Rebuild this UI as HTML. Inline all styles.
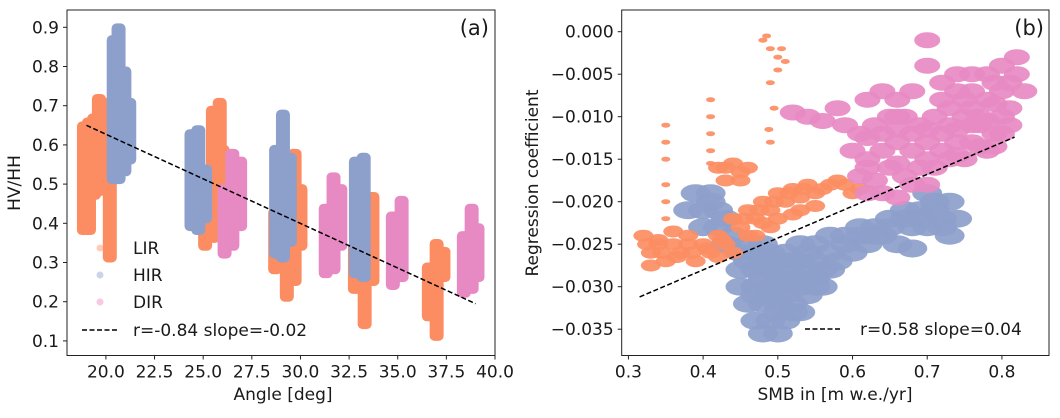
<!DOCTYPE html>
<html><head><meta charset="utf-8"><style>
body{margin:0;background:#fff;}
svg text{font-family:"DejaVu Sans","Liberation Sans",sans-serif;fill:#1a1a1a;}
</style></head><body>
<svg id="fig" width="1060" height="413" viewBox="0 0 1060 413" xmlns="http://www.w3.org/2000/svg">
<rect width="1060" height="413" fill="#fff"/>
<g id="pa"></g>
<g id="pb"></g>
</svg>
<script>
// ---- Panel (a) data: strips [angle, low, high]
const lirAngle=[18.87,19.13,19.39,19.64,19.9,20.2, 25.1,25.5,25.85,26.0, 28.7,29.3,29.7,30.0, 32.8,33.3,33.7, 36.6,37.0,37.35];
const lirLow  =[0.37,0.37,0.46,0.47,0.48,0.30, 0.33,0.35,0.40,0.45, 0.27,0.20,0.24,0.33, 0.22,0.13,0.24, 0.15,0.10,0.25];
const lirHigh =[0.66,0.67,0.68,0.73,0.72,0.58, 0.55,0.70,0.72,0.60, 0.44,0.46,0.59,0.50, 0.35,0.33,0.48, 0.30,0.36,0.34];
const hirAngle=[20.4,20.65,20.95,21.2, 24.4,24.75,25.1, 28.75,29.1,29.45, 32.85,33.25];
const hirLow  =[0.50,0.50,0.52,0.55, 0.38,0.37,0.40, 0.31,0.30,0.34, 0.26,0.25];
const hirHigh =[0.88,0.91,0.80,0.72, 0.64,0.65,0.55, 0.60,0.69,0.58, 0.57,0.58];
const dirAngle=[26.1,26.5,26.9, 31.3,31.7,32.05, 34.75,35.2, 38.4,38.8,39.1];
const dirLow  =[0.31,0.33,0.38, 0.26,0.27,0.33, 0.23,0.25, 0.21,0.22,0.25];
const dirHigh =[0.50,0.59,0.57, 0.45,0.53,0.50, 0.43,0.47, 0.38,0.45,0.40];
const aFit=[[19,0.65],[39,0.195]];
const aXTicks=[20,22.5,25,27.5,30,32.5,35,37.5,40];
const aYTicks=[0.1,0.2,0.3,0.4,0.5,0.6,0.7,0.8,0.9];
// ---- Panel (b) data
const bluX=[0.45,0.47,0.49,0.51,0.53,0.55,0.57,0.45,0.47,0.49,0.51,0.53,0.55,0.57,0.59,0.45,0.47,0.49,0.51,0.53,0.55,0.57,0.46,0.48,0.50,0.52,0.54,0.56,0.47,0.49,0.51,0.53,0.48,0.50,
0.39,0.41,0.38,0.40,0.42,0.40,0.42,0.44,0.43,
0.59,0.61,0.63,0.65,0.62,0.64,0.67,0.69,0.71,0.73,0.68,0.70,0.72,0.74,0.73,0.70,0.66,0.60,0.68,
0.46,0.48,0.50,0.52,0.54,0.48,0.50,0.52,0.54,0.56,0.47,0.49,0.51,0.53,0.55,0.58,0.61,0.63,0.65,0.67,0.69,0.71,0.72,0.41,0.43,0.50,0.52,0.46,0.48];
const bluY=[-0.026,-0.026,-0.026,-0.026,-0.025,-0.025,-0.024,-0.028,-0.028,-0.028,-0.028,-0.027,-0.027,-0.026,-0.025,-0.030,-0.030,-0.030,-0.030,-0.029,-0.029,-0.028,-0.032,-0.032,-0.032,-0.032,-0.031,-0.030,-0.034,-0.034,-0.034,-0.033,-0.0355,-0.0355,
-0.019,-0.019,-0.021,-0.021,-0.021,-0.023,-0.023,-0.024,-0.025,
-0.024,-0.023,-0.023,-0.022,-0.025,-0.024,-0.021,-0.021,-0.020,-0.020,-0.023,-0.023,-0.022,-0.022,-0.024,-0.019,-0.025,-0.026,-0.0255,
-0.027,-0.027,-0.027,-0.027,-0.026,-0.029,-0.029,-0.029,-0.028,-0.028,-0.031,-0.031,-0.031,-0.030,-0.030,-0.027,-0.024,-0.024,-0.023,-0.022,-0.022,-0.021,-0.023,-0.020,-0.022,-0.033,-0.033,-0.025,-0.025];
const oraBandX=[0.32,0.33,0.34,0.35,0.36,0.37,0.38,0.39,0.40,0.41,0.42,0.43,0.44,0.36,0.33,
0.44,0.45,0.46,0.47,0.48,0.49,0.50,0.51,0.52,0.53,0.54,0.55,0.57,0.59,0.61,0.50,0.46,0.52,
0.42,0.44,0.46,0.43,0.45,
0.325,0.345,0.365,0.385,0.405,0.425,0.455,0.475,0.495,0.515,0.535,0.56,0.58,0.60,0.47,0.49,0.43,0.45,0.34,0.38,0.42,0.48,0.55,0.53];
const oraBandY=[-0.024,-0.026,-0.025,-0.027,-0.025,-0.026,-0.025,-0.027,-0.025,-0.026,-0.024,-0.025,-0.026,-0.0235,-0.0275,
-0.022,-0.023,-0.021,-0.022,-0.020,-0.021,-0.019,-0.020,-0.0185,-0.0195,-0.018,-0.019,-0.018,-0.018,-0.0185,-0.022,-0.024,-0.0215,
-0.016,-0.0155,-0.016,-0.0175,-0.0175,
-0.025,-0.026,-0.0265,-0.026,-0.0255,-0.0245,-0.022,-0.021,-0.020,-0.019,-0.0185,-0.0185,-0.0175,-0.019,-0.024,-0.023,-0.016,-0.0165,-0.0245,-0.024,-0.0265,-0.0225,-0.0205,-0.021];
const oraSparseX=[0.35,0.35,0.35,0.35,0.35,0.35,0.41,0.41,0.41,0.41,0.41,0.49,0.495,0.49,0.488,
0.48,0.49,0.50,0.51,0.50,0.485,0.505];
const oraSparseY=[-0.011,-0.013,-0.015,-0.018,-0.020,-0.022,-0.008,-0.010,-0.012,-0.014,-0.0155,-0.006,-0.009,-0.013,-0.0115,
-0.001,-0.002,-0.003,-0.0035,-0.0045,-0.0005,-0.002];
const pnkX=[0.52,0.54,0.56,0.58,0.59,0.61,0.63,0.65,0.67,0.69,0.71,0.73,0.75,0.77,0.79,
0.60,0.62,0.64,0.66,0.68,0.70,0.72,0.74,0.76,0.78,0.80,0.61,0.63,0.65,0.67,0.69,0.71,0.73,0.75,0.64,0.66,0.70,
0.70,0.72,0.74,0.76,0.78,0.80,0.82,0.82,0.80,0.78,0.76,0.83,0.72,0.70,0.62,0.64,0.66,0.68,0.81,
0.62,0.64,0.66,0.68,0.70,0.72,0.74,0.76,0.78,0.80,0.62,0.66,0.70,0.74,0.77,0.79,0.81,0.74,0.76,0.79,0.81,0.73,0.75,0.77,0.79,0.62,0.68,0.66];
const pnkY=[-0.0095,-0.010,-0.0105,-0.009,-0.011,-0.012,-0.011,-0.010,-0.010,-0.011,-0.010,-0.011,-0.010,-0.011,-0.012,
-0.014,-0.015,-0.014,-0.013,-0.014,-0.013,-0.014,-0.013,-0.013,-0.014,-0.012,-0.017,-0.0175,-0.016,-0.017,-0.016,-0.016,-0.015,-0.015,-0.019,-0.0195,-0.018,
-0.004,-0.006,-0.005,-0.007,-0.005,-0.004,-0.005,-0.003,-0.007,-0.008,-0.009,-0.007,-0.008,-0.001,-0.008,-0.007,-0.008,-0.007,-0.009,
-0.0125,-0.012,-0.0115,-0.012,-0.0115,-0.012,-0.0115,-0.011,-0.0105,-0.010,-0.016,-0.0155,-0.015,-0.0145,-0.0135,-0.0135,-0.011,-0.007,-0.005,-0.006,-0.006,-0.009,-0.008,-0.010,-0.0085,-0.019,-0.018,-0.010];
const bFit=[[0.315,-0.0312],[0.817,-0.0124]];
const bXTicks=[0.3,0.4,0.5,0.6,0.7,0.8];
const bYTicks=[0,-0.005,-0.01,-0.015,-0.02,-0.025,-0.03,-0.035];

const NS="http://www.w3.org/2000/svg";
function mk(p,tag,at){const e=document.createElementNS(NS,tag);for(const k in at)e.setAttribute(k,at[k]);p.appendChild(e);return e;}
const OR="#fc8d62",BL="#8da0cb",PK="#e78ac3";
const fmtMinus=s=>s.replace('-','\u2212');
const FS=17;

// ----- Panel A
const pa=document.getElementById('pa');
const AL=67,AR=495,AT=10,AB=355.5;
const ax=a=>AL+(a-18)/22*(AR-AL);
const ay=v=>27.3+(0.9-v)*392;
function strips(angles,lows,highs,col,name){
  for(let i=0;i<angles.length;i++){
    const y1=ay(highs[i]),y2=ay(lows[i]);
    const r=mk(pa,'rect',{x:ax(angles[i])-7,y:y1,width:14,height:y2-y1,rx:5,fill:col});
    
    
  }
}
strips(lirAngle,lirLow,lirHigh,OR,'lir');
strips(hirAngle,hirLow,hirHigh,BL,'hir');
strips(dirAngle,dirLow,dirHigh,PK,'dir');
const fa=mk(pa,'line',{x1:ax(aFit[0][0]),y1:ay(aFit[0][1]),x2:ax(aFit[1][0]),y2:ay(aFit[1][1]),stroke:'#000','stroke-width':1.5,'stroke-dasharray':'5,2.5'});


const fra=mk(pa,'rect',{x:AL,y:AT,width:AR-AL,height:AB-AT,fill:'none',stroke:'#222','stroke-width':1});


aXTicks.forEach(t=>{const x=ax(t);mk(pa,'line',{x1:x,y1:AB,x2:x,y2:AB+4,stroke:'#222'});
  const tx=mk(pa,'text',{x:x,y:AB+22,'text-anchor':'middle','font-size':FS});tx.textContent=t.toFixed(1);
  
  });
aYTicks.forEach(t=>{const y=ay(t);mk(pa,'line',{x1:AL-4,y1:y,x2:AL,y2:y,stroke:'#222'});
  const tx=mk(pa,'text',{x:AL-8,y:y+6,'text-anchor':'end','font-size':FS});tx.textContent=t.toFixed(1);
  
  });
[['LIR',OR,248],['HIR',BL,275],['DIR',PK,302]].forEach(([l,c,y])=>{
  const d=mk(pa,'circle',{cx:100,cy:y,r:3.5,fill:c,opacity:0.45});
  
  
  const t=mk(pa,'text',{x:133,y:y+6,'font-size':FS});t.textContent=l;
  
  
});
mk(pa,'line',{x1:82,y1:330,x2:118,y2:330,stroke:'#000','stroke-width':1.5,'stroke-dasharray':'5,2.5'});
const lt=mk(pa,'text',{x:133,y:336,'font-size':FS});lt.textContent='r=-0.84 slope=-0.02';


const la=mk(pa,'text',{x:489,y:35,'font-size':21,'text-anchor':'end'});la.textContent='(a)';


const xa=mk(pa,'text',{x:283,y:400,'font-size':FS,'text-anchor':'middle'});xa.textContent='Angle [deg]';


const ya=mk(pa,'text',{x:0,y:0,'font-size':FS,'text-anchor':'middle',transform:'translate(20,183) rotate(-90)'});ya.textContent='HV/HH';



// ----- Panel B
const pb=document.getElementById('pb');
const BLf=621.7,BR=1049,BT=10,BB=355.5;
const bx=v=>BLf+(v-0.291)*747;
const by=v=>31.7-v*8500;
function cloud(xs,ys,col,name,rx,ry){
  for(let i=0;i<xs.length;i++){
    const e=mk(pb,'ellipse',{cx:bx(xs[i]),cy:by(ys[i]),rx:rx,ry:ry,fill:col,opacity:0.92});
    
    
  }
}
cloud(bluX,bluY,BL,'hir',15,9);
cloud(oraBandX,oraBandY,OR,'lir',10,6);
cloud(oraSparseX,oraSparseY,OR,'lir-sparse',4.5,2.5);
cloud(pnkX,pnkY,PK,'dir',13,8);
const fb=mk(pb,'line',{x1:bx(bFit[0][0]),y1:by(bFit[0][1]),x2:bx(bFit[1][0]),y2:by(bFit[1][1]),stroke:'#000','stroke-width':1.5,'stroke-dasharray':'5,2.5'});


const frb=mk(pb,'rect',{x:BLf,y:BT,width:BR-BLf,height:BB-BT,fill:'none',stroke:'#222','stroke-width':1});


bXTicks.forEach(t=>{const x=bx(t);mk(pb,'line',{x1:x,y1:BB,x2:x,y2:BB+4,stroke:'#222'});
  const tx=mk(pb,'text',{x:x,y:BB+22,'text-anchor':'middle','font-size':FS});tx.textContent=t.toFixed(1);
  
  });
bYTicks.forEach(t=>{const y=by(t);mk(pb,'line',{x1:BLf-4,y1:y,x2:BLf,y2:y,stroke:'#222'});
  const tx=mk(pb,'text',{x:BLf-8,y:y+6,'text-anchor':'end','font-size':FS});tx.textContent=fmtMinus(t.toFixed(3));
  
  });
mk(pb,'line',{x1:805,y1:329,x2:840,y2:329,stroke:'#000','stroke-width':1.5,'stroke-dasharray':'5,2.5'});
const lb=mk(pb,'text',{x:860,y:335,'font-size':FS});lb.textContent='r=0.58 slope=0.04';


const lbb=mk(pb,'text',{x:1044,y:35,'font-size':21,'text-anchor':'end'});lbb.textContent='(b)';


const xb=mk(pb,'text',{x:835,y:400,'font-size':FS,'text-anchor':'middle'});xb.textContent='SMB in [m w.e./yr]';


const yb=mk(pb,'text',{x:0,y:0,'font-size':FS,'text-anchor':'middle',transform:'translate(538,183) rotate(-90)'});yb.textContent='Regression coefficient';


</script>
</body></html>
